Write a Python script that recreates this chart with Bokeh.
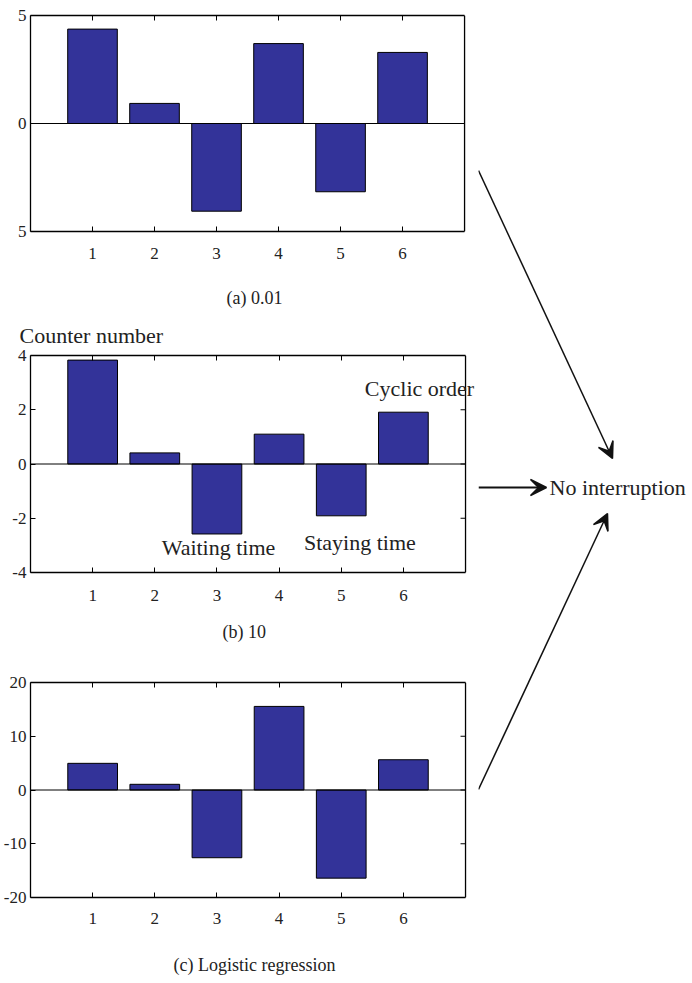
from bokeh.plotting import figure
from bokeh.models import Range1d, FixedTicker, LinearAxis, Label, Arrow, VeeHead, Title
from bokeh.layouts import row, column
from bokeh.embed import file_html
from bokeh.resources import INLINE

# ---------------- data ----------------
categories = [1, 2, 3, 4, 5, 6]
values_a = [4.37, 0.93, -4.06, 3.70, -3.16, 3.29]
values_b = [3.83, 0.41, -2.58, 1.10, -1.91, 1.91]
values_c = [4.96, 1.06, -12.6, 15.55, -16.4, 5.63]

yticks_a = [-5, 0, 5]
ytick_labels_a = ["5", "0", "5"]
yticks_b = [-4, -2, 0, 2, 4]
ytick_labels_b = ["-4", "-2", "0", "2", "4"]
yticks_c = [-20, -10, 0, 10, 20]
ytick_labels_c = ["-20", "-10", "0", "10", "20"]

captions = ["(a) 0.01", "(b) 10", "(c) Logistic regression"]
title_b = "Counter number"
notes_b = ["Waiting time", "Staying time", "Cyclic order"]
notes_b_x = [2.11, 4.40, 5.38]
notes_b_y = [-3.08, -2.88, 2.80]
target_text = "No interruption"

FONT = "Liberation Serif"
TXT = "#222222"
BAR_COLOR = "#333399"
LEFT_W = 478
FRAME_W = 436
TICK_PX = 5


def make_panel(vals, ylim, yticks, ylabels, caption, height, bt, bb, bl,
               label_standoff, caption_standoff, caption_offset=None):
    # the plotting frame runs to the right edge of the column so that texts can
    # overhang the box; the box itself ends at x_max
    x_max = len(categories) + 1
    ymin, ymax = ylim
    x_end = x_max * (LEFT_W - bl) / FRAME_W
    p = figure(width=LEFT_W, height=height,
               x_range=Range1d(0, x_end), y_range=Range1d(ymin, ymax),
               output_backend="svg", toolbar_location=None,
               min_border_left=bl, min_border_right=0,
               min_border_top=bt, min_border_bottom=bb)
    p.grid.visible = False
    p.outline_line_color = None
    p.add_layout(LinearAxis(), "above")
    for ax in p.axis:
        ax.major_tick_in = TICK_PX
        ax.major_tick_out = 0
        ax.minor_tick_in = 0
        ax.minor_tick_out = 0
        ax.axis_line_color = "black"
        ax.axis_line_width = 1.3
        ax.major_tick_line_color = "black"
        ax.major_label_text_font = FONT
        ax.major_label_text_font_size = "17px"
        ax.major_label_text_color = TXT
    for ax in p.xaxis:
        ax.ticker = FixedTicker(ticks=categories)
        ax.bounds = (0, x_max)
    for ax in p.yaxis:
        ax.ticker = FixedTicker(ticks=yticks)
        ax.major_label_overrides = {t: l for t, l in zip(yticks, ylabels)}
    for ax in p.above:
        ax.major_label_text_color = None
        ax.major_label_text_font_size = "6px"
        ax.major_label_standoff = 0
    bottom = p.below[0]
    bottom.major_label_standoff = label_standoff
    if caption_offset is None:
        bottom.axis_label = caption
        bottom.axis_label_text_font = FONT
        bottom.axis_label_text_font_size = "18px"
        bottom.axis_label_text_font_style = "normal"
        bottom.axis_label_text_color = TXT
        bottom.axis_label_standoff = caption_standoff
    else:
        p.add_layout(Title(text=caption, align="left", offset=caption_offset,
                           vertical_align="bottom", standoff=caption_standoff,
                           text_font=FONT, text_font_size="18px",
                           text_font_style="normal", text_color=TXT), "below")
    p.left[0].major_label_standoff = 4

    p.vbar(x=categories, top=vals, bottom=0, width=0.8,
           fill_color=BAR_COLOR, line_color="black", line_width=1)
    # zero line
    p.segment(x0=[0], y0=[0], x1=[x_max], y1=[0], line_color="black", line_width=1)
    # right edge of the box and its inward ticks
    tl = TICK_PX * x_max / FRAME_W
    p.segment(x0=[x_max], y0=[ymin], x1=[x_max], y1=[ymax],
              line_color="black", line_width=1.3)
    p.segment(x0=[x_max - tl] * len(yticks), y0=yticks,
              x1=[x_max] * len(yticks), y1=yticks,
              line_color="black", line_width=1)
    return p


pa = make_panel(values_a, (-5, 5), yticks_a, ytick_labels_a, captions[0],
                313, 15, 82, 28, 16, 26)
pb = make_panel(values_b, (-4, 4), yticks_b, ytick_labels_b, captions[1],
                354, 42, 95, 29, 17, 32, caption_offset=192)
pc = make_panel(values_c, (-20, 20), yticks_c, ytick_labels_c, captions[2],
                316, 15, 86, 29, 15, 28)

pb.title.text = title_b
pb.title.align = "left"
pb.title.offset = -11
pb.title.vertical_align = "top"
pb.title.text_font = FONT
pb.title.text_font_size = "22px"
pb.title.text_font_style = "normal"
pb.title.text_color = TXT
pb.title.standoff = 11

for txt, x, y in zip(notes_b, notes_b_x, notes_b_y):
    pb.add_layout(Label(x=x, y=y, text=txt, text_font=FONT, text_font_size="22px",
                        text_color=TXT, text_baseline="alphabetic", text_align="left"))

# right-hand figure with arrows (page pixel coordinates)
pr = figure(width=692 - LEFT_W, height=983,
            x_range=Range1d(LEFT_W, 692), y_range=Range1d(983, 0),
            output_backend="svg", toolbar_location=None, min_border=0,
            x_axis_location=None, y_axis_location=None)
pr.grid.visible = False
pr.outline_line_color = None

arrows = [((LEFT_W, 170), (612, 458), 1.5),
          ((LEFT_W, 487), (546, 487), 2.2),
          ((LEFT_W, 789), (607, 513), 1.5)]
for (x0, y0), (x1, y1), lw in arrows:
    pr.add_layout(Arrow(end=VeeHead(size=16, fill_color="#111111", line_color="#111111",
                                    line_width=1.5),
                        x_start=x0, y_start=y0, x_end=x1, y_end=y1,
                        line_color="#111111", line_width=lw))
pr.add_layout(Label(x=549, y=487, text=target_text, text_font=FONT, text_font_size="22px",
                    text_color=TXT, text_baseline="middle", text_align="left"))

layout = row(column(pa, pb, pc), pr)
open("out.html", "w").write(file_html(layout, INLINE))
